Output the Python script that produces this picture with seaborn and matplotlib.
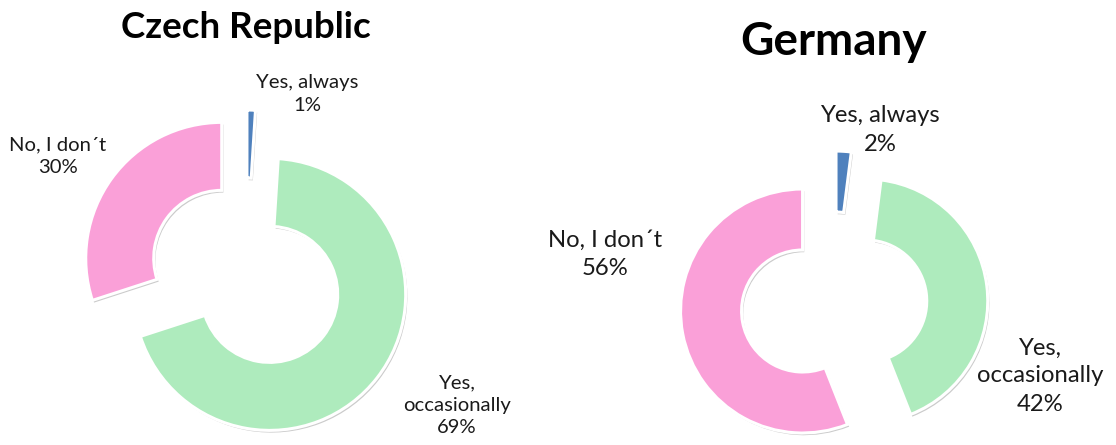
import textwrap

import matplotlib
matplotlib.use("Agg")
import matplotlib.pyplot as plt
import matplotlib.patheffects as pe
import seaborn as sns

# Survey answers (share of respondents, %)
categories = ["Yes, always", "Yes, occasionally", "No, I don´t"]
czech_values = [1, 69, 30]
germany_values = [2, 42, 56]
countries = ["Czech Republic", "Germany"]

sns.set_theme(style="white")
plt.rcParams["font.family"] = ["Lato", "DejaVu Sans"]

slice_colors = ["#4F81BD", "#AEEBBD", "#FAA0D8"]
text_color = "#1a1a1a"

W, H = 1116, 445
fig = plt.figure(figsize=(W / 100, H / 100), dpi=100)
ax = fig.add_axes([0, 0, 1, 1])

# layout per chart: centre (px, y measured from bottom), outer radius, explode offset,
# title position/size, label positions and label size
layouts = [
    dict(center=(246, H - 276), radius=136, explode=30,
         title_xy=(246, H - 27), title_size=26.5,
         label_xy=[(307, H - 94), (457, H - 405), (58, H - 156)], label_size=14.6,
         spacing=1.38),
    dict(center=(834, H - 305), radius=122, explode=32,
         title_xy=(834, H - 42), title_size=33,
         label_xy=[(880, H - 130), (1040, H - 376), (605, H - 254)], label_size=17.2,
         spacing=1.42),
]

shadow = [pe.SimplePatchShadow(offset=(1.2, -1.6), shadow_rgbFace="#8c8c8c", alpha=0.45),
          pe.Normal()]

for country, values, lay in zip(countries, [czech_values, germany_values], layouts):
    wedges, _ = ax.pie(
        values,
        colors=slice_colors,
        explode=[lay["explode"]] * len(values),
        center=lay["center"],
        radius=lay["radius"],
        startangle=90,
        counterclock=False,
        wedgeprops=dict(width=lay["radius"] * 0.5, edgecolor="white", linewidth=2.2),
        frame=True,
    )
    for w in wedges:
        w.set_path_effects(shadow)

    ax.text(*lay["title_xy"], country, ha="center", va="center",
            fontsize=lay["title_size"], fontweight="bold", color="black")

    for cat, val, (lx, ly) in zip(categories, values, lay["label_xy"]):
        label = textwrap.fill(cat, width=12) + f"\n{val}%"
        ax.text(lx, ly, label, ha="center", va="center", fontsize=lay["label_size"],
                color=text_color, linespacing=lay["spacing"])

ax.set_xlim(0, W)
ax.set_ylim(0, H)
ax.set_aspect("equal")
ax.axis("off")

fig.savefig("out.png", dpi=100, facecolor="white")
